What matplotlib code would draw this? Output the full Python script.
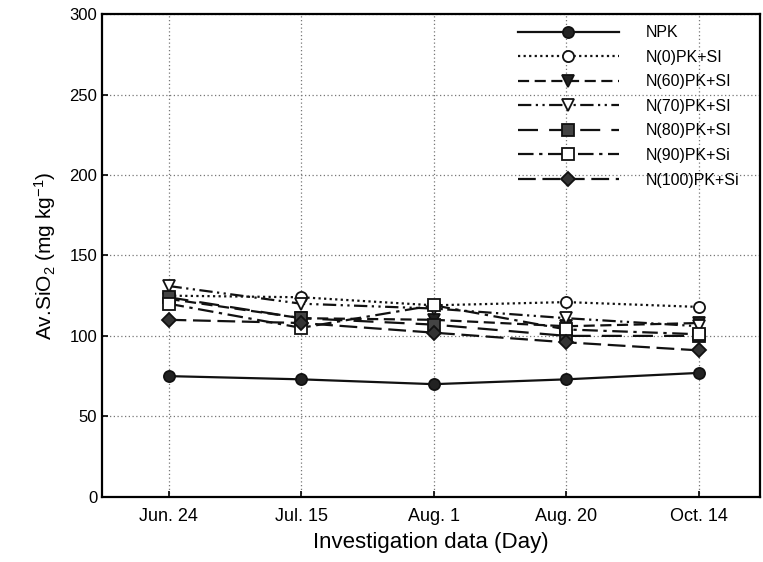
import matplotlib
matplotlib.use("Agg")
import matplotlib.pyplot as plt

plt.rcParams['font.family'] = ['Liberation Sans', 'DejaVu Sans']
plt.rcParams['mathtext.fontset'] = 'custom'
plt.rcParams['mathtext.rm'] = 'Liberation Sans'
plt.rcParams['mathtext.it'] = 'Liberation Sans:italic'

dates = ["Jun. 24", "Jul. 15", "Aug. 1", "Aug. 20", "Oct. 14"]
series_names = ["NPK", "N(0)PK+SI", "N(60)PK+SI", "N(70)PK+SI",
                "N(80)PK+SI", "N(90)PK+Si", "N(100)PK+Si"]
npk = [75, 73, 70, 73, 77]
n0 = [125, 124, 119, 121, 118]
n60 = [123, 111, 110, 106, 108]
n70 = [131, 120, 117, 111, 106]
n80 = [124, 111, 107, 100, 100]
n90 = [120, 105, 119, 104, 101]
n100 = [110, 108, 102, 96, 91]
values = [npk, n0, n60, n70, n80, n90, n100]

styles = [
    dict(ls='-', marker='o', mfc='#222222'),
    dict(ls=(0, (1, 1.5)), marker='o', mfc='white'),
    dict(ls=(0, (5, 2.5)), marker='v', mfc='#222222'),
    dict(ls=(0, (6, 2, 1, 2, 1, 2)), marker='v', mfc='white'),
    dict(ls=(0, (9, 5)), marker='s', mfc='#444444'),
    dict(ls=(0, (7, 2.5, 1.5, 2.5)), marker='s', mfc='white'),
    dict(ls=(0, (8, 3)), marker='D', mfc='#333333'),
]

fig = plt.figure(figsize=(7.63, 5.62), dpi=100)
ax = fig.add_axes([0.134, 0.116, 0.862, 0.859])
x = list(range(len(dates)))
for name, v, st in zip(series_names, values, styles):
    ms = 8 if st['marker'] != 'D' else 7
    ax.plot(x, v, color='#111111', lw=1.6, ls=st['ls'], marker=st['marker'],
            ms=ms, mfc=st['mfc'], mec='#111111', mew=1.3, label=name)

ax.set_xlim(-0.5, 4.46)
ax.set_ylim(0, 300)
ax.set_yticks([0, 50, 100, 150, 200, 250, 300])
ax.set_xticks(x)
ax.set_xticklabels(dates)
ax.grid(True, color='#777777', ls=(0, (1, 2)), lw=0.9)
ax.tick_params(direction='in', length=4, labelsize=12, width=1.2)
ax.tick_params(axis='x', pad=8, labelsize=13)
for s in ax.spines.values():
    s.set_linewidth(1.6)
ax.set_xlabel("Investigation data (Day)", fontsize=16, labelpad=5)
ax.set_ylabel("Av.SiO$_2$ (mg kg$^{-1}$)", fontsize=15, labelpad=8)

leg = ax.legend(loc='upper left', bbox_to_anchor=(0.632, 0.977), frameon=False,
                fontsize=11.5, handlelength=6.3, handletextpad=1.7,
                labelspacing=0.6, borderpad=0, borderaxespad=0)
fig.savefig("out.png", dpi=100)
